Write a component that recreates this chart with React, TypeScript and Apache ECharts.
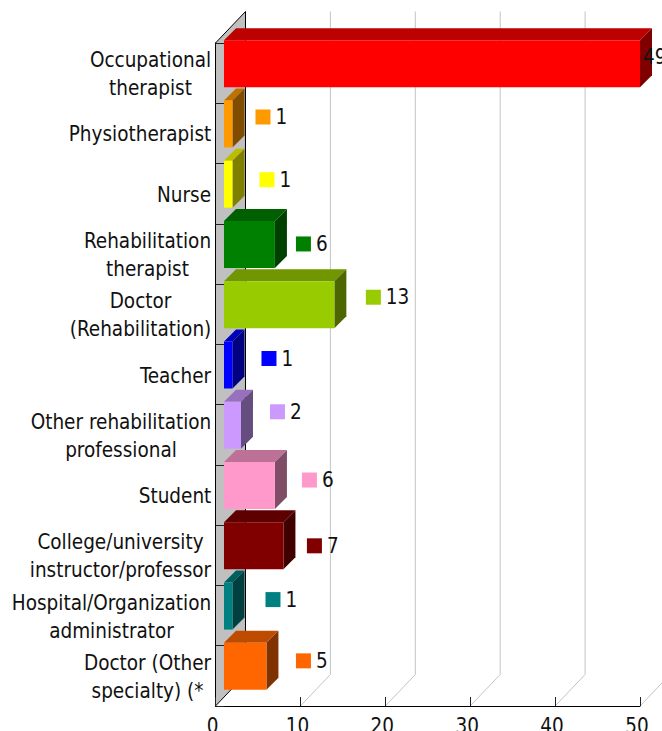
import React, { useEffect, useRef } from "react";
import * as echarts from "echarts";

const categories = [
  "Occupational\ntherapist",
  "Physiotherapist",
  "Nurse",
  "Rehabilitation\ntherapist",
  "Doctor\n(Rehabilitation)",
  "Teacher",
  "Other rehabilitation\nprofessional",
  "Student",
  "College/university\ninstructor/professor",
  "Hospital/Organization\nadministrator",
  "Doctor (Other\nspecialty) (*",
];
const values = [49, 1, 1, 6, 13, 1, 2, 6, 7, 1, 5];
const colors = ["#ff0000", "#ff9900", "#ffff00", "#008000", "#99cc00", "#0000ff", "#cc99ff", "#ff99cc", "#800000", "#008080", "#ff6600"];
const xTicks = [10, 20, 30, 40, 50];

// layout of the free-floating value labels (px, relative to the bar's end and centre)
const labelGapX = [3, 11, 15, 9, 19.5, 17, 17, 15, 11.5, 21, 17.5];
const labelGapY = [-6.5, -7, -4.5, -0.5, -7.5, -6.5, -13.5, -5.5, 0, -6.5, -5.5];

const FONT = "DejaVu Sans Condensed";
const FS = 20.5;
const WALL_DX = 30;
const WALL_DY = 31.5;
const BAR_DEPTH = 12;
const BAR_H = 47;
const BAR_BASE = 1;
const KEY = 15;

function shade(hex: string, f: number) {
  const n = parseInt(hex.slice(1), 16);
  const c = [(n >> 16) & 255, (n >> 8) & 255, n & 255].map((v) => Math.round(v * f));
  return `rgb(${c[0]},${c[1]},${c[2]})`;
}

function measure(s: string) {
  const ctx = document.createElement("canvas").getContext("2d")!;
  ctx.font = `${FS}px "${FONT}"`;
  return ctx.measureText(s).width;
}

export default function App() {
  const ref = useRef<HTMLDivElement>(null);
  useEffect(() => {
    document.body.style.margin = "0";
    const chart = echarts.init(ref.current!, undefined, { renderer: "svg" });
    const rich: any = {};
    categories.forEach((c, i) => {
      const w = Math.ceil(Math.max(...c.split("\n").map(measure)));
      rich["w" + i] = { width: w, align: "center", fontFamily: FONT, fontSize: FS, lineHeight: 28, color: "#111" };
    });
    chart.setOption({
      animation: false,
      grid: { left: 215.5, right: 22, top: 43, bottom: 25, containLabel: false, outerBoundsMode: "none" },
      xAxis: {
        type: "value",
        min: 0,
        max: 50,
        interval: 10,
        z: 5,
        splitLine: { show: false },
        axisLine: { show: true, lineStyle: { color: "#000", width: 1 } },
        axisTick: { show: true, inside: true, length: 9, lineStyle: { color: "#222" } },
        axisLabel: { fontFamily: FONT, fontSize: FS, color: "#111", margin: 9, padding: [0, 6, 0, 0], hideOverlap: false, showMaxLabel: true, showMinLabel: true },
      },
      yAxis: {
        type: "category",
        inverse: true,
        data: categories,
        z: 5,
        axisLine: { show: true, lineStyle: { color: "#000", width: 1 } },
        axisTick: { show: true, inside: true, length: 9, lineStyle: { color: "#222" } },
        axisLabel: {
          interval: 0,
          margin: 4,
          padding: [2, 0, 0, 0],
          rich,
          formatter: (v: string) => {
            const i = categories.indexOf(v);
            return v.split("\n").map((l) => `{w${i}|${l}}`).join("\n");
          },
        },
      },
      series: [
        {
          // side wall and base of the 3D plot box
          type: "custom",
          z: 1,
          silent: true,
          data: [[0, 0]],
          encode: { x: 0, y: 1 },
          clip: false,
          renderItem: (_p: any, api: any) => {
            const half = api.size([0, 1])[1] / 2;
            const top = api.coord([0, 0])[1] - half;
            const bottom = api.coord([0, categories.length - 1])[1] + half;
            const x0 = api.coord([0, 0])[0];
            const pts = [[x0, top], [x0 + WALL_DX, top - WALL_DY], [x0 + WALL_DX, bottom - WALL_DY], [x0, bottom]];
            return {
              type: "polygon",
              shape: { points: pts },
              style: { fill: "#c0c0c0", stroke: "#000", lineWidth: 1 },
            };
          },
        },
        {
          // gridlines: diagonal on the floor, vertical on the back wall
          type: "custom",
          z: 1,
          silent: true,
          clip: false,
          data: xTicks.map((t) => [t, 0]),
          encode: { x: 0, y: 1 },
          renderItem: (_p: any, api: any) => {
            const half = api.size([0, 1])[1] / 2;
            const top = api.coord([0, 0])[1] - half;
            const bottom = api.coord([0, categories.length - 1])[1] + half;
            const x = api.coord([api.value(0), 0])[0];
            return {
              type: "polyline",
              shape: { points: [[x, bottom], [x + WALL_DX, bottom - WALL_DY], [x + WALL_DX, top - WALL_DY]] },
              style: { fill: "none", stroke: "#c4c4c4", lineWidth: 1 },
            };
          },
        },
        {
          // 3D bars
          type: "custom",
          z: 6,
          silent: true,
          clip: false,
          data: values.map((v, i) => [v, i]),
          encode: { x: 0, y: 1 },
          renderItem: (p: any, api: any) => {
            const i = p.dataIndex;
            const x0 = api.coord([BAR_BASE, i])[0];
            const x1 = api.coord([BAR_BASE + api.value(0), i])[0];
            const cy = api.coord([0, i])[1];
            const y0 = cy - BAR_H / 2 - 9.5;
            const y1 = y0 + BAR_H;
            const d = BAR_DEPTH;
            const c = colors[i];
            return {
              type: "group",
              children: [
                { type: "polygon", shape: { points: [[x0, y0], [x0 + d, y0 - d], [x1 + d, y0 - d], [x1, y0]] }, style: { fill: shade(c, 0.74) } },
                { type: "polygon", shape: { points: [[x1, y0], [x1 + d, y0 - d], [x1 + d, y1 - d], [x1, y1]] }, style: { fill: shade(c, 0.5) } },
                { type: "rect", shape: { x: x0, y: y0, width: x1 - x0, height: BAR_H }, style: { fill: c } },
              ],
            };
          },
        },
        {
          // value labels with their colour key
          type: "custom",
          z: 7,
          silent: true,
          clip: false,
          data: values.map((v, i) => [v, i]),
          encode: { x: 0, y: 1 },
          renderItem: (p: any, api: any) => {
            const i = p.dataIndex;
            const x1 = api.coord([BAR_BASE + api.value(0), i])[0] + BAR_DEPTH;
            const cy = api.coord([0, i])[1] - 9.5 + labelGapY[i];
            const keyX = x1 + labelGapX[i];
            const hideKey = api.value(0) === Math.max(...values);
            const children: any[] = [];
            if (!hideKey) {
              children.push({ type: "rect", shape: { x: keyX, y: cy - KEY / 2, width: KEY, height: KEY }, style: { fill: colors[i] } });
            }
            children.push({
              type: "text",
              x: hideKey ? x1 - 9 : keyX + KEY + 5,
              y: cy,
              style: { text: String(api.value(0)), fill: "#111", fontFamily: FONT, fontSize: FS, verticalAlign: "middle", align: "left" },
            });
            return { type: "group", children };
          },
        },
      ],
    });
    return () => chart.dispose();
  }, []);
  return <div ref={ref} style={{ width: 662, height: 731 }} />;
}
